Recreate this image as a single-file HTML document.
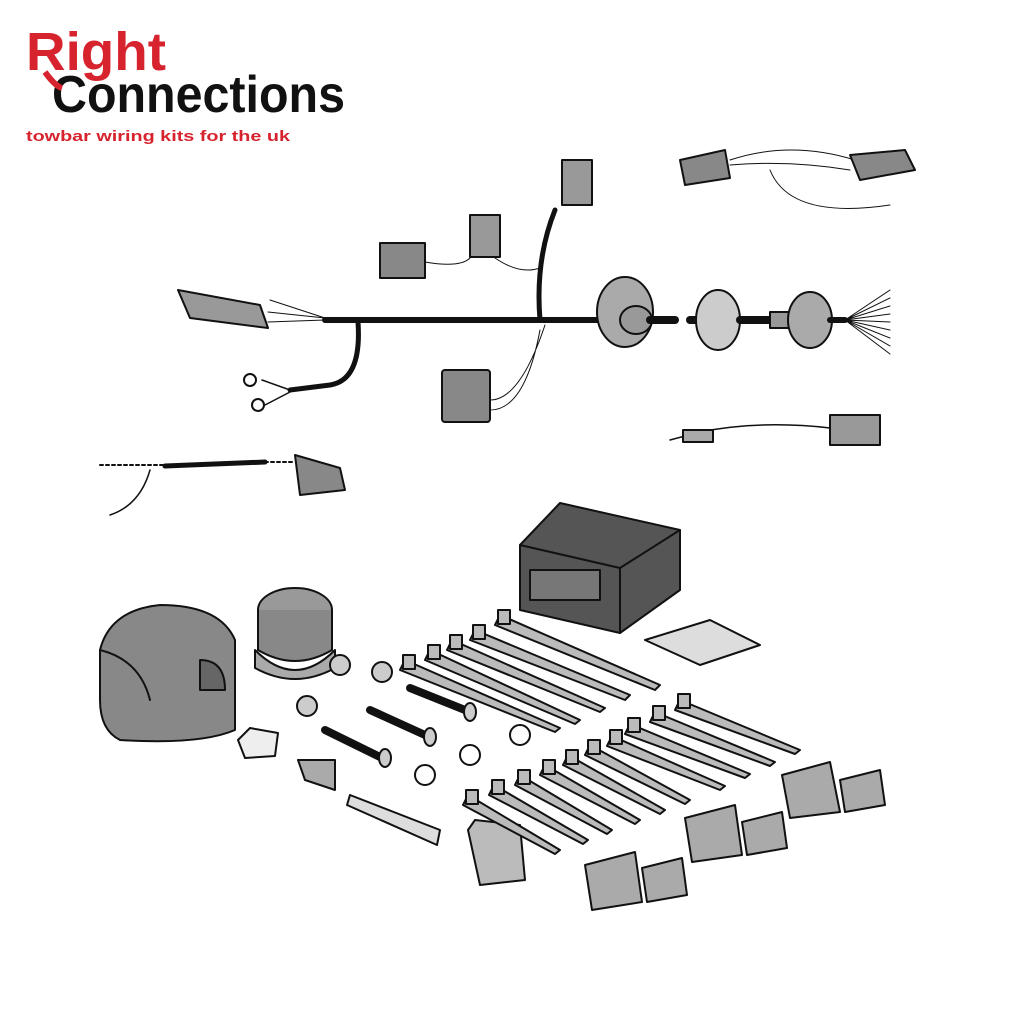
<!DOCTYPE html>
<html><head><meta charset="utf-8"><style>
html,body{margin:0;padding:0;background:#fff;width:1024px;height:1024px;overflow:hidden}
svg{display:block}
</style></head><body>
<svg width="1024" height="1024" viewBox="0 0 1024 1024" xmlns="http://www.w3.org/2000/svg">
<rect width="1024" height="1024" fill="#fff"/>
<!-- logo -->
<text x="26" y="70" font-family="Liberation Sans, sans-serif" font-weight="bold" font-size="54" fill="#d7232d" textLength="140" lengthAdjust="spacingAndGlyphs">Right</text>
<text x="52" y="112" font-family="Liberation Sans, sans-serif" font-weight="bold" font-size="52" fill="#111" textLength="293" lengthAdjust="spacingAndGlyphs">Connections</text>
<path d="M45 72 Q55 86 62 88" stroke="#d7232d" stroke-width="6" fill="none"/>
<text x="26" y="141" font-family="Liberation Sans, sans-serif" font-weight="bold" font-size="15" fill="#d7232d" textLength="264" lengthAdjust="spacingAndGlyphs">towbar wiring kits for the uk</text>

<g stroke="#111" stroke-width="2" stroke-linejoin="round" stroke-linecap="round">
<!-- main harness -->
<path d="M325 320 L600 320" stroke-width="6" fill="none"/>
<path d="M540 320 Q535 260 555 210" stroke-width="5" fill="none"/>
<path d="M358 322 Q362 380 330 385 L290 390" stroke-width="5" fill="none"/>
<path d="M290 390 L262 380 M290 392 L265 405" stroke-width="1.5" fill="none"/>
<path d="M325 318 L270 300" stroke-width="1" fill="none"/>
<path d="M325 318 L268 312 M325 320 L268 322" stroke-width="1" fill="none"/>
<path d="M425 262 Q460 268 470 258 M495 258 Q520 275 540 268" stroke-width="1" fill="none"/>
<path d="M490 410 Q525 410 540 330 M490 400 Q520 400 545 325" stroke-width="1" fill="none"/>
<circle cx="250" cy="380" r="6" fill="#fff"/><circle cx="258" cy="405" r="6" fill="#fff"/>
<!-- connectors -->
<path d="M178 290 L260 305 L268 328 L190 318 Z" fill="#999"/>
<rect x="380" y="243" width="45" height="35" fill="#888"/>
<rect x="470" y="215" width="30" height="42" fill="#999"/>
<rect x="562" y="160" width="30" height="45" fill="#999"/>
<rect x="442" y="370" width="48" height="52" rx="3" fill="#888"/>
<!-- grommet -->
<ellipse cx="625" cy="312" rx="28" ry="35" fill="#aaa"/>
<ellipse cx="636" cy="320" rx="16" ry="14" fill="#999"/>
<path d="M650 320 L675 320" stroke-width="8"/>
<path d="M690 320 L710 320" stroke-width="8"/>
<ellipse cx="718" cy="320" rx="22" ry="30" fill="#ccc"/>
<path d="M740 320 L770 320" stroke-width="8"/>
<path d="M770 312 L800 312 L800 328 L770 328Z" fill="#999"/>
<ellipse cx="810" cy="320" rx="22" ry="28" fill="#aaa"/>
<path d="M830 320 L845 320" stroke-width="6"/>
<path d="M845 320 L890 290 M845 320 L890 298 M845 320 L890 306 M845 320 L890 314 M845 320 L890 322 M845 320 L890 330 M845 320 L890 338 M845 320 L890 346 M845 320 L890 354" stroke-width="1" fill="none"/>
<!-- top right -->
<path d="M680 160 L725 150 L730 178 L685 185 Z" fill="#888"/>
<path d="M730 160 Q790 140 855 160 M730 165 Q790 160 850 170 M770 170 Q790 220 890 205" stroke-width="1" fill="none"/>
<path d="M850 155 L905 150 L915 170 L860 180 Z" fill="#888"/>
<!-- small lead -->
<path d="M670 440 L700 432 M700 432 Q760 420 830 428" stroke-width="1.5" fill="none"/>
<rect x="683" y="430" width="30" height="12" fill="#aaa"/>
<rect x="830" y="415" width="50" height="30" fill="#999"/>
<!-- twisted -->
<path d="M100 465 L165 465" stroke-width="2" stroke-dasharray="3 3" fill="none"/>
<path d="M165 466 L265 462" stroke-width="5" fill="none"/>
<path d="M265 462 L295 462" stroke-width="2" stroke-dasharray="3 3" fill="none"/>
<path d="M150 470 Q140 505 110 515" stroke-width="1.5" fill="none"/>
<path d="M295 455 L340 468 L345 490 L300 495 Z" fill="#888"/>
<!-- module -->
<path d="M520 545 L560 503 L680 530 L680 590 L620 633 L520 610 Z" fill="#555"/>
<path d="M520 545 L620 568 L680 530 M620 568 L620 633" fill="none"/>
<rect x="530" y="570" width="70" height="30" fill="#777"/>
<path d="M645 640 L710 620 L760 645 L700 665 Z" fill="#ddd"/>
<!-- socket -->
<path d="M100 650 Q110 610 160 605 Q220 605 235 640 L235 730 Q200 745 120 740 Q100 730 100 700 Z" fill="#888"/>
<path d="M100 650 Q140 660 150 700" fill="none"/>
<path d="M200 660 Q225 660 225 690 L200 690Z" fill="#666"/>
<ellipse cx="295" cy="610" rx="37" ry="22" fill="#999"/>
<path d="M258 610 L258 650 Q295 672 332 650 L332 610" fill="#888"/>
<path d="M255 650 Q295 690 335 650 L335 668 Q295 690 255 668 Z" fill="#aaa"/>
<!-- nuts/washers -->
<circle cx="340" cy="665" r="10" fill="#ccc"/><circle cx="382" cy="672" r="10" fill="#ccc"/><circle cx="307" cy="706" r="10" fill="#ccc"/>
<circle cx="520" cy="735" r="10" fill="#fff"/><circle cx="470" cy="755" r="10" fill="#fff"/><circle cx="425" cy="775" r="10" fill="#fff"/>
<!-- bolts -->
<path d="M410 688 L465 710" stroke-width="8"/><ellipse cx="470" cy="712" rx="6" ry="9" fill="#ccc"/>
<path d="M370 710 L425 735" stroke-width="8"/><ellipse cx="430" cy="737" rx="6" ry="9" fill="#ccc"/>
<path d="M325 730 L380 757" stroke-width="8"/><ellipse cx="385" cy="758" rx="6" ry="9" fill="#ccc"/>
<!-- small parts -->
<path d="M238 740 L250 728 L278 733 L275 756 L245 758 Z" fill="#eee"/>
<path d="M298 760 L335 760 L335 790 L305 780 Z" fill="#aaa"/>
<path d="M350 795 L440 830 L437 845 L347 805 Z" fill="#ddd"/>
<path d="M468 830 L475 820 L520 825 L525 880 L480 885 Z" fill="#bbb"/>
<!-- cable ties -->
<g fill="#bbb">
<path d="M500 615 L660 685 L655 690 L495 625 Z"/><rect x="498" y="610" width="12" height="14"/>
<path d="M475 630 L630 695 L625 700 L470 640 Z"/><rect x="473" y="625" width="12" height="14"/>
<path d="M452 640 L605 708 L600 712 L447 650 Z"/><rect x="450" y="635" width="12" height="14"/>
<path d="M430 650 L580 720 L575 724 L425 660 Z"/><rect x="428" y="645" width="12" height="14"/>
<path d="M405 660 L560 728 L555 732 L400 670 Z"/><rect x="403" y="655" width="12" height="14"/>
<path d="M680 700 L800 750 L795 754 L675 710 Z"/><rect x="678" y="694" width="12" height="14"/>
<path d="M655 712 L775 762 L770 766 L650 722 Z"/><rect x="653" y="706" width="12" height="14"/>
<path d="M630 724 L750 774 L745 778 L625 734 Z"/><rect x="628" y="718" width="12" height="14"/>
<path d="M612 736 L725 786 L720 790 L607 746 Z"/><rect x="610" y="730" width="12" height="14"/>
<path d="M590 745 L690 800 L685 804 L585 755 Z"/><rect x="588" y="740" width="12" height="14"/>
<path d="M568 755 L665 810 L660 814 L563 765 Z"/><rect x="566" y="750" width="12" height="14"/>
<path d="M545 765 L640 820 L635 824 L540 775 Z"/><rect x="543" y="760" width="12" height="14"/>
<path d="M520 775 L612 830 L607 834 L515 785 Z"/><rect x="518" y="770" width="12" height="14"/>
<path d="M494 785 L588 840 L583 844 L489 795 Z"/><rect x="492" y="780" width="12" height="14"/>
<path d="M468 795 L560 850 L555 854 L463 805 Z"/><rect x="466" y="790" width="12" height="14"/>
</g>
<!-- splice connectors -->
<g fill="#aaa">
<path d="M782 775 L830 762 L840 812 L790 818 Z"/><path d="M840 780 L880 770 L885 805 L845 812 Z"/>
<path d="M685 818 L735 805 L742 855 L692 862 Z"/><path d="M742 822 L782 812 L787 848 L747 855 Z"/>
<path d="M585 865 L635 852 L642 902 L592 910 Z"/><path d="M642 868 L682 858 L687 895 L647 902 Z"/>
</g>
</g>
</svg>
</body></html>
